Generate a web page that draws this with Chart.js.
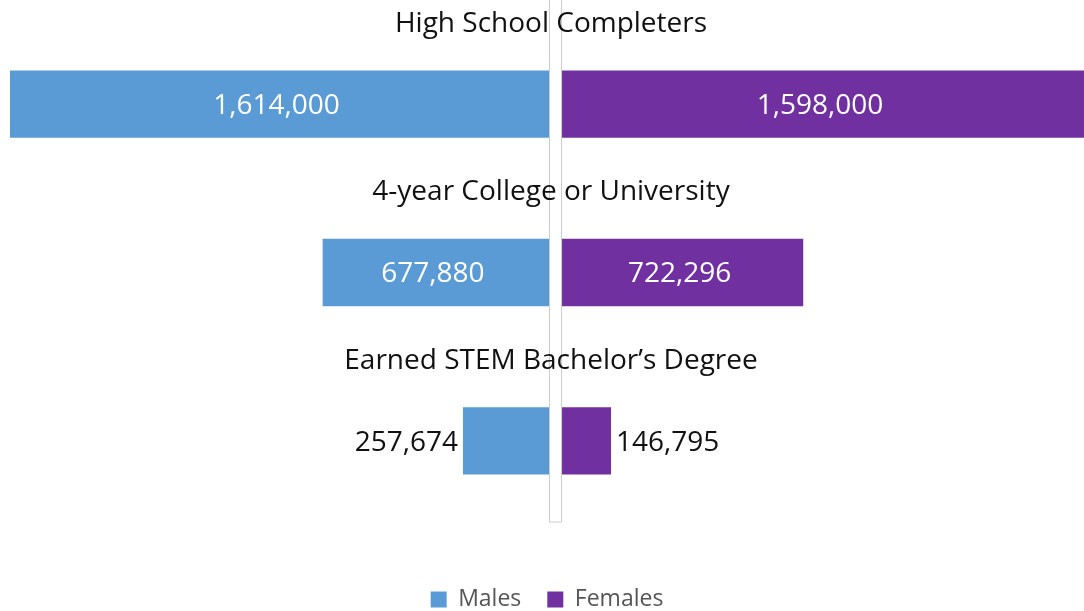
<!DOCTYPE html>
<html><head><meta charset="utf-8">
<script src="https://cdn.jsdelivr.net/npm/chart.js@4/dist/chart.umd.min.js"></script>
<style>html,body{margin:0;padding:0;background:#fff;overflow:hidden}canvas{display:block}</style>
</head><body>
<canvas id="c" width="1084" height="611"></canvas>
<script>
const categories = ['High School Completers', '4-year College or University', 'Earned STEM Bachelor\u2019s Degree'];
const seriesNames = ['Males', 'Females'];
const males = [1614000, 677880, 257674];
const females = [1598000, 722296, 146795];

const FONT = "'Open Sans', sans-serif";
const BLUE = '#5B9BD5';
const PURPLE = '#7030A0';
const X_MIN = -1614000, X_MAX = 1602000, GAP = 39000;
const TEXT_SIZE = 28;
const fmt = v => v.toLocaleString('en-US');

const annot = {
  id: 'annot',
  beforeDatasetsDraw(chart) {
    const {ctx, chartArea, scales} = chart;
    const x0 = Math.round(scales.xM.getPixelForValue(0));
    const x1 = Math.round(scales.xF.getPixelForValue(0));
    ctx.save();
    ctx.strokeStyle = '#cdcdcd';
    ctx.lineWidth = 1;
    ctx.strokeRect(x0 + 0.5, -2, x1 - x0 - 1, chartArea.bottom - 1);
    ctx.restore();
  },
  afterDatasetsDraw(chart) {
    const {ctx, chartArea, scales} = chart;
    const y = scales.y;
    const step = (chartArea.bottom - chartArea.top) / categories.length;
    const cx = scales.xM.getPixelForValue(0) + 2;
    ctx.save();
    ctx.font = `${TEXT_SIZE}px ${FONT}`;
    ctx.textBaseline = 'alphabetic';
    ctx.textAlign = 'center';
    ctx.fillStyle = '#111111';
    categories.forEach((c, i) => {
      const yc = y.getPixelForValue(i);
      ctx.fillText(c, cx, yc - step / 2 + 12);
    });
    const asc = TEXT_SIZE * 0.357;
    chart.data.datasets.forEach((ds, di) => {
      const meta = chart.getDatasetMeta(di);
      meta.data.forEach((el, j) => {
        const val = di === 0 ? males[j] : females[j];
        const txt = fmt(val);
        const left = Math.max(Math.min(el.x, el.base), chartArea.left);
        const right = Math.min(Math.max(el.x, el.base), chartArea.right);
        const w = ctx.measureText(txt).width;
        const by = el.y + asc;
        if (w + 16 < right - left) {
          ctx.fillStyle = '#ffffff';
          ctx.textAlign = 'center';
          ctx.fillText(txt, (left + right) / 2 - 3, by);
        } else {
          ctx.fillStyle = '#111111';
          if (di === 0) { ctx.textAlign = 'right'; ctx.fillText(txt, left - 5, by); }
          else { ctx.textAlign = 'left'; ctx.fillText(txt, right + 5, by); }
        }
      });
    });
    ctx.restore();
  }
};

new Chart(document.getElementById('c'), {
  type: 'bar',
  data: {
    labels: categories,
    datasets: [
      { label: seriesNames[0], data: males.map(v => -v), xAxisID: 'xM', backgroundColor: BLUE, borderWidth: 0 },
      { label: seriesNames[1], data: females, xAxisID: 'xF', backgroundColor: PURPLE, borderWidth: 0 }
    ]
  },
  options: {
    indexAxis: 'y',
    responsive: false,
    animation: false,
    devicePixelRatio: 1,
    layout: { padding: { top: 20, left: 10, right: 0, bottom: -10 } },
    datasets: { bar: { grouped: false, barPercentage: 0.4, categoryPercentage: 1.0 } },
    scales: {
      y: { type: 'category', offset: true, display: false, grid: { display: false } },
      xM: {
        type: 'linear', position: 'bottom', min: X_MIN, max: X_MAX, display: true,
        grid: { display: false }, border: { display: false }, ticks: { display: false },
        afterFit(s) { s.height = 37; }
      },
      xF: {
        type: 'linear', position: 'bottom', min: X_MIN - GAP, max: X_MAX - GAP, display: false,
        grid: { display: false }
      }
    },
    plugins: {
      tooltip: { enabled: false },
      legend: {
        position: 'bottom',
        labels: {
          font: { family: FONT, size: 23 },
          color: '#555555',
          boxWidth: 16, boxHeight: 16, padding: 26
        }
      }
    }
  },
  plugins: [annot]
});
</script>
</body></html>
